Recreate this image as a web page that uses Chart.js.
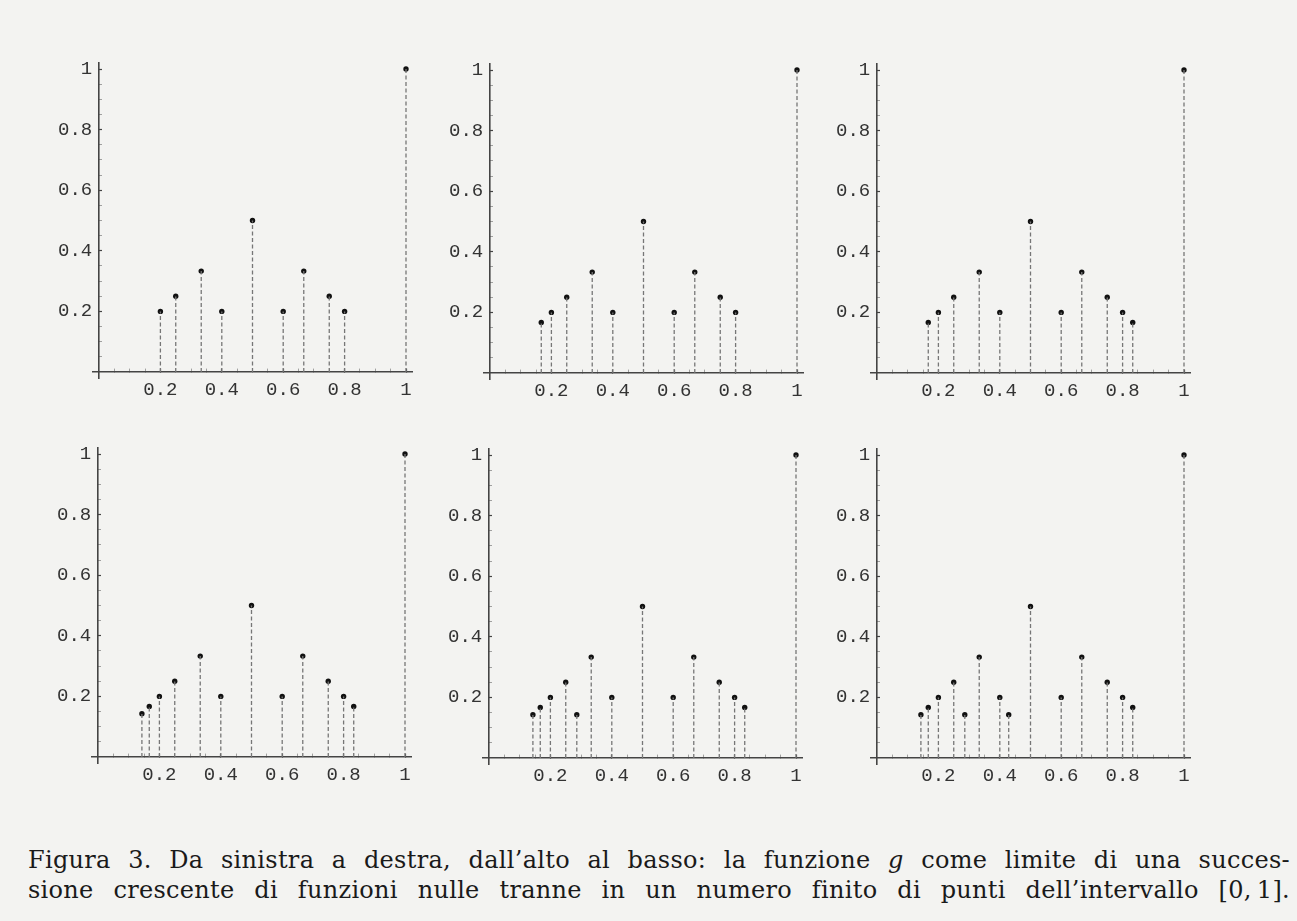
<!DOCTYPE html>
<html lang="it">
<head>
<meta charset="UTF-8" />
<title>Figura 3</title>
<script src="https://cdn.jsdelivr.net/npm/chart.js"></script>
<style>
  body { margin: 0; background: #f3f3f1; width: 1297px; height: 921px; position: relative; overflow: hidden; }
  .panel { position: absolute; }
  .caption { position: absolute; left: 28px; width: 1262px; font-family: 'DejaVu Serif', serif; font-size: 24px; letter-spacing: 0.3px; line-height: 30px; color: #1a1a1a; text-align: justify; text-align-last: justify; white-space: nowrap; }
</style>
</head>
<body>
<div id="panels"></div>
<div class="caption" style="top:845px">Figura 3. Da sinistra a destra, dall’alto al basso: la funzione <i>g</i> come limite di una succes-</div>
<div class="caption" style="top:875px">sione crescente di funzioni nulle tranne in un numero finito di punti dell’intervallo [0,&thinsp;1].</div>

<script>
// punti (x, g(x)) di ciascun grafico, da sinistra a destra e dall'alto al basso
const p1X = [0.2, 0.25, 0.333, 0.4, 0.5, 0.6, 0.667, 0.75, 0.8, 1];
const p1Y = [0.2, 0.25, 0.333, 0.2, 0.5, 0.2, 0.333, 0.25, 0.2, 1];

const p2X = [0.167, 0.2, 0.25, 0.333, 0.4, 0.5, 0.6, 0.667, 0.75, 0.8, 1];
const p2Y = [0.167, 0.2, 0.25, 0.333, 0.2, 0.5, 0.2, 0.333, 0.25, 0.2, 1];

const p3X = [0.167, 0.2, 0.25, 0.333, 0.4, 0.5, 0.6, 0.667, 0.75, 0.8, 0.833, 1];
const p3Y = [0.167, 0.2, 0.25, 0.333, 0.2, 0.5, 0.2, 0.333, 0.25, 0.2, 0.167, 1];

const p4X = [0.143, 0.167, 0.2, 0.25, 0.333, 0.4, 0.5, 0.6, 0.667, 0.75, 0.8, 0.833, 1];
const p4Y = [0.143, 0.167, 0.2, 0.25, 0.333, 0.2, 0.5, 0.2, 0.333, 0.25, 0.2, 0.167, 1];

const p5X = [0.143, 0.167, 0.2, 0.25, 0.286, 0.333, 0.4, 0.5, 0.6, 0.667, 0.75, 0.8, 0.833, 1];
const p5Y = [0.143, 0.167, 0.2, 0.25, 0.143, 0.333, 0.2, 0.5, 0.2, 0.333, 0.25, 0.2, 0.167, 1];

const p6X = [0.143, 0.167, 0.2, 0.25, 0.286, 0.333, 0.4, 0.429, 0.5, 0.6, 0.667, 0.75, 0.8, 0.833, 1];
const p6Y = [0.143, 0.167, 0.2, 0.25, 0.143, 0.333, 0.2, 0.143, 0.5, 0.2, 0.333, 0.25, 0.2, 0.167, 1];

// assi: tacche ogni 0.05, etichette solo sulle principali
const tickValues = [0.05, 0.1, 0.15, 0.2, 0.25, 0.3, 0.35, 0.4, 0.45, 0.5, 0.55, 0.6, 0.65, 0.7, 0.75, 0.8, 0.85, 0.9, 0.95, 1];
const majorTicks = [0.2, 0.4, 0.6, 0.8, 1];
const majorLabels = ['0.2', '0.4', '0.6', '0.8', '1'];

const panelsX = [p1X, p2X, p3X, p4X, p5X, p6X];
const panelsY = [p1Y, p2Y, p3Y, p4Y, p5Y, p6Y];

// origine (0,0) di ogni grafico in pixel della pagina
const origins = [[99, 372], [490, 373], [877, 373], [98, 757], [489, 758], [877, 758]];

const W = 420, H = 380;          // canvas
const UX = 307, UY = 303;        // pixel per unità
const OX = 80, OY = 343;         // origine dentro il canvas
const lo = -0.02, hi = 1.02;

function labelFor(v) {
    const i = majorTicks.findIndex(m => Math.abs(m - v) < 1e-6);
    return i >= 0 ? majorLabels[i] : '';
}
function isMajor(v) { return labelFor(v) !== ''; }

const tickFont = { family: "'Liberation Mono', monospace", size: 19 };
const setTicks = s => { s.ticks = tickValues.map(v => ({ value: v })); };
const axisGrid = {
    drawOnChartArea: false, tickLength: -4,
    tickColor: c => isMajor(c.tick.value) ? '#444' : '#8a8a8a',
    tickWidth: c => isMajor(c.tick.value) ? 1.2 : 0.8
};

panelsX.forEach((xs, k) => {
    const ys = panelsY[k];
    const cv = document.createElement('canvas');
    cv.width = W; cv.height = H;
    cv.className = 'panel';
    cv.style.left = (origins[k][0] - OX) + 'px';
    cv.style.top = (origins[k][1] - OY) + 'px';
    document.getElementById('panels').appendChild(cv);

    const stems = [];
    xs.forEach((x, i) => {
        stems.push({ x: x, y: 0 }, { x: x, y: ys[i] }, { x: x, y: null });
    });
    const dots = xs.map((x, i) => ({ x: x, y: ys[i] }));

    const padL = OX + lo * UX;
    const padT = OY - hi * UY;
    new Chart(cv.getContext('2d'), {
        type: 'scatter',
        data: {
            datasets: [
                { type: 'line', data: stems, showLine: true, spanGaps: false, borderColor: '#767676', borderWidth: 1.3, borderDash: [4, 2.5], pointRadius: 0 },
                { data: dots, pointRadius: 2.7, pointBackgroundColor: '#111', pointBorderWidth: 0 }
            ]
        },
        options: {
            responsive: false,
            animation: false,
            layout: { padding: { left: padL, top: padT, right: W - padL - (hi - lo) * UX, bottom: H - padT - (hi - lo) * UY } },
            plugins: { legend: { display: false }, tooltip: { enabled: false } },
            scales: {
                x: {
                    type: 'linear', min: lo, max: hi,
                    position: { y: 0 },
                    afterBuildTicks: setTicks,
                    border: { color: '#444', width: 1.6 },
                    grid: axisGrid,
                    ticks: { autoSkip: false, maxRotation: 0, padding: 11, color: '#333', font: tickFont, callback: v => labelFor(v) }
                },
                y: {
                    type: 'linear', min: lo, max: hi,
                    position: { x: 0 },
                    afterBuildTicks: setTicks,
                    border: { color: '#444', width: 1.6 },
                    grid: axisGrid,
                    ticks: { display: false }
                },
                // solo etichette dell'asse y, un poco a sinistra dell'asse
                yLabels: {
                    type: 'linear', axis: 'y', min: lo, max: hi,
                    position: { x: -0.022 },
                    afterBuildTicks: setTicks,
                    border: { display: false },
                    grid: { display: false },
                    ticks: { autoSkip: false, color: '#333', font: tickFont, callback: v => labelFor(v) }
                }
            }
        }
    });
});
</script>
</body>
</html>
